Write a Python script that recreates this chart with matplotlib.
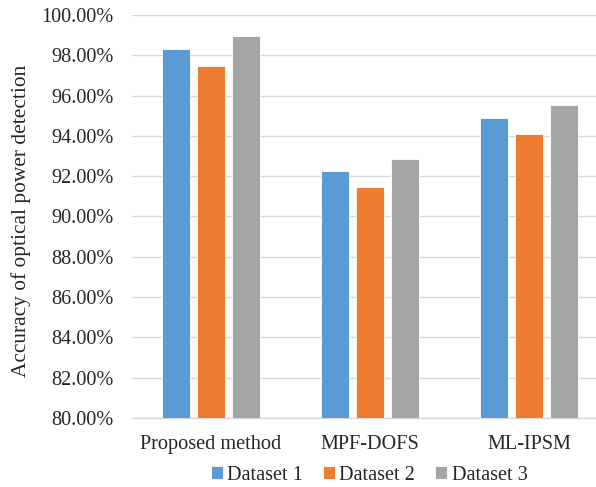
import numpy as np
import matplotlib
matplotlib.use("Agg")
import matplotlib.pyplot as plt
from matplotlib.ticker import FuncFormatter

plt.rcParams['font.family'] = ['Liberation Serif', 'DejaVu Serif']

# data
methods = ["Proposed method", "MPF-DOFS", "ML-IPSM"]
series = ["Dataset 1", "Dataset 2", "Dataset 3"]
dataset1 = [98.33, 92.26, 94.89]
dataset2 = [97.46, 91.45, 94.08]
dataset3 = [98.98, 92.86, 95.52]
colors = ["#5B9BD5", "#ED7D31", "#A5A5A5"]

fig = plt.figure(figsize=(5.96, 4.87), dpi=100)
ax = fig.add_axes([131.5 / 596, 1 - 418 / 487, 1 - 131.5 / 596, (418 - 15) / 487])

x = np.arange(len(methods))
w = 0.174
step = 0.222
for i, (vals, name) in enumerate(zip([dataset1, dataset2, dataset3], series)):
    ax.bar(x + (i - 1) * step, vals, width=w, color=colors[i], label=name,
           edgecolor="white", linewidth=0.6, zorder=3)

ax.set_ylim(80, 100)
ax.set_yticks(np.arange(80, 100.1, 2))
ax.yaxis.set_major_formatter(FuncFormatter(lambda v, p: f"{v:.2f}%"))
ax.set_xlim(-0.5, 2.5 - 12.5 / 159)
ax.set_xticks(x)
ax.set_xticklabels(methods)

ax.grid(axis="y", color="#d9d9d9", linewidth=1.0, zorder=0)
for s in ["top", "right", "left"]:
    ax.spines[s].set_visible(False)
ax.spines["bottom"].set_color("#d9d9d9")
ax.spines["bottom"].set_linewidth(1.0)
ax.tick_params(axis="both", length=0, labelsize=14.6, colors="#262626")
ax.tick_params(axis="y", pad=13)
ax.tick_params(axis="x", pad=12)

fig.text(21 / 596, 1 - 221 / 487, "Accuracy of optical power detection",
         rotation=90, ha="center", va="center", fontsize=15.4, color="#262626")

fig.legend(loc="center", bbox_to_anchor=(369 / 596, 1 - 475 / 487), ncol=3,
           frameon=False, fontsize=14.6, handlelength=0.6, handleheight=0.6,
           handletextpad=0.2, columnspacing=1.0, labelcolor="#262626")

fig.savefig("out.png", dpi=100)
